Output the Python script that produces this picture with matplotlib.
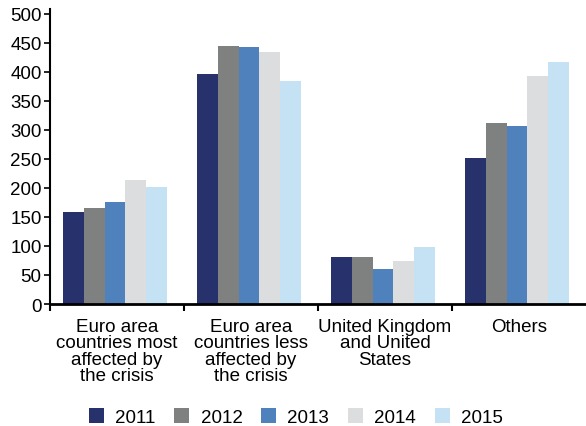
import numpy as np
import matplotlib
matplotlib.use("Agg")
import matplotlib.pyplot as plt

plt.rcParams['font.family'] = ['Liberation Sans', 'DejaVu Sans']

# categories and yearly values
categories = [
    "Euro area\ncountries most\naffected by\nthe crisis",
    "Euro area\ncountries less\naffected by\nthe crisis",
    "United Kingdom\nand United\nStates",
    "Others",
]
years = ["2011", "2012", "2013", "2014", "2015"]
v2011 = [159, 396, 81, 251]
v2012 = [166, 445, 81, 311]
v2013 = [176, 443, 60, 306]
v2014 = [213, 434, 74, 393]
v2015 = [202, 384, 98, 417]
colors = ["#27326c", "#7f8080", "#4f82bc", "#dcdddf", "#c5e1f4"]

series = [v2011, v2012, v2013, v2014, v2015]

fig = plt.figure(figsize=(5.86, 4.27), dpi=100)
ax = fig.add_axes([50 / 586, 122 / 427, 536 / 586, 295 / 427])

x = np.arange(len(categories))
width = 0.156
for i, (vals, yr, col) in enumerate(zip(series, years, colors)):
    ax.bar(x + (i - 2) * width - 0.015, vals, width, color=col, label=yr)

ax.set_xlim(-0.5, len(categories) - 0.5)
ax.set_ylim(0, 508)
ax.set_yticks(range(0, 501, 50))
ax.tick_params(axis='y', labelsize=13.5, direction='out', length=4, width=1.2, pad=2)

ax.set_xticks(x)
ax.set_xticklabels(categories, fontsize=13.5, linespacing=0.95, va='top')
ax.tick_params(axis='x', which='major', length=0, pad=10)
ax.set_xticks(np.arange(len(categories)) - 0.5, minor=True)
ax.tick_params(axis='x', which='minor', direction='out', length=5, width=1.5)

for side in ["top", "right"]:
    ax.spines[side].set_visible(False)
ax.spines["left"].set_linewidth(1.5)
ax.spines["bottom"].set_linewidth(2)

fig.legend(loc='center', bbox_to_anchor=(0.505, 0.021), ncol=5, frameon=False,
           fontsize=13.5, handlelength=0.8, handleheight=0.8, columnspacing=1.0,
           handletextpad=0.6)

fig.savefig("out.png", dpi=100)
